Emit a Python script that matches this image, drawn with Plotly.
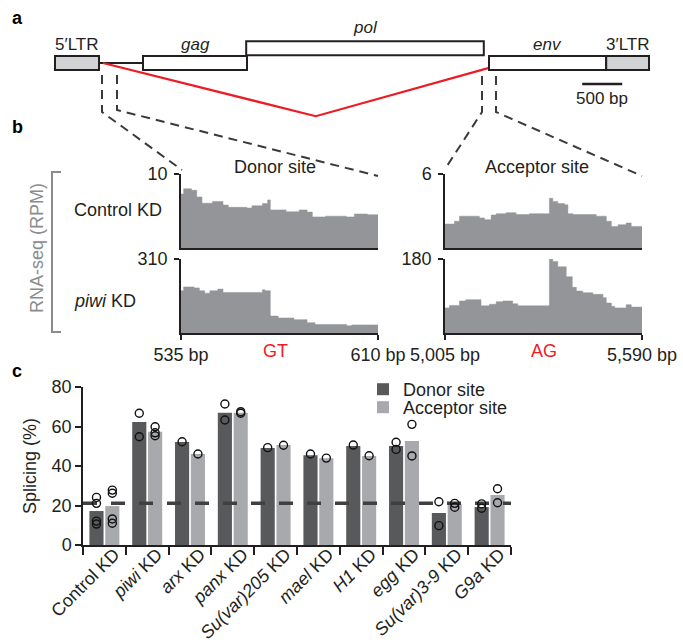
import plotly.graph_objects as go

W, H = 683, 643
FONT = "Liberation Sans, Arial, Helvetica, sans-serif"

# ---------------- panel a: element map (bp) ----------------
feat_names = ["5′LTR", "<i>gag</i>", "<i>pol</i>", "<i>env</i>", "3′LTR"]
feat_start = [0, 1100, 2390, 5425, 6890]
feat_end = [550, 2400, 5360, 6890, 7425]
feat_row = [0, 0, 1, 0, 0]          # 0 = main row, 1 = shifted reading frame
feat_is_ltr = [True, False, False, False, True]
leader_span = [550, 1100]           # thin line between 5'LTR and gag
intron_bp = [600, 3260, 5425]       # donor, apex, acceptor of spliced intron
scale_start, scale_len = 6590, 500

# ---------------- panel b: RNA-seq coverage (RPM) ----------------
donor_range = [535, 610]
donor_ctrl_pos = [535, 536, 539, 541, 543, 547, 551, 553, 560, 562, 566, 568, 569,
                  575, 580, 583, 585, 590, 598, 601, 606]
donor_ctrl_val = [7.3, 8.0, 7.8, 6.9, 6.05, 6.3, 5.8, 5.5, 5.4, 5.7, 6.0, 6.5, 5.15,
                  4.9, 5.15, 4.85, 4.2, 4.3, 4.2, 4.6, 4.5]
donor_piwi_pos = [535, 536, 540, 542, 544, 546, 549, 551, 566, 567, 569, 572, 578,
                  583, 586, 598, 600]
donor_piwi_val = [177, 193, 189, 177, 167, 177, 184, 170, 181, 177, 71, 63, 56,
                  43, 36, 30, 34]
acc_range = [5005, 5590]
acc_ctrl_pos = [5005, 5033, 5048, 5107, 5122, 5142, 5157, 5186, 5216, 5256, 5315,
                5325, 5340, 5360, 5370, 5385, 5454, 5484, 5499, 5519, 5543, 5558]
acc_ctrl_val = [1.94, 2.17, 2.58, 2.44, 2.3, 2.67, 2.78, 2.86, 2.72, 2.78, 4.03,
                3.78, 3.6, 3.5, 2.78, 2.72, 2.58, 2.17, 1.75, 1.89, 2.03, 1.75]
acc_piwi_pos = [5005, 5018, 5048, 5067, 5112, 5137, 5157, 5177, 5206, 5221, 5315,
                5325, 5340, 5365, 5383, 5395, 5414, 5444, 5474, 5484, 5499, 5509,
                5543, 5558]
acc_piwi_val = [61, 67, 78, 81, 66, 70, 76, 78, 71, 66, 180, 174, 161, 137, 111,
                102, 98, 94, 86, 73, 65, 61, 69, 63]
ctrl_max = [10, 6]
piwi_max = [310, 180]
gt_bp, ag_bp = 571, 5300

# ---------------- panel c: splicing ----------------
categories = ["Control KD", "<i>piwi</i> KD", "<i>arx</i> KD", "<i>panx</i> KD",
              "<i>Su(var)205</i> KD", "<i>mael</i> KD", "<i>H1</i> KD",
              "<i>egg</i> KD", "<i>Su(var)3-9</i> KD", "<i>G9a</i> KD"]
donor_vals = [17.2, 62.3, 52.2, 67.0, 49.1, 45.4, 50.1, 50.1, 16.2, 19.2]
acceptor_vals = [19.7, 57.4, 46.1, 67.0, 50.6, 43.9, 45.1, 52.7, 20.6, 25.3]
donor_pts = [[24.1, 21.1, 12.1, 10.6], [66.7, 54.8], [52.3], [71.4, 63.3], [49.3],
             [46.1], [50.6], [52.0, 48.4], [21.9, 9.8], [20.8, 18.6]]
acceptor_pts = [[27.8, 26.2, 13.2, 11.0], [59.9, 56.8, 55.3], [46.1], [67.5, 66.7],
                [50.5], [44.0], [45.2], [61.1, 45.1], [21.1, 19.1], [28.5, 21.4]]
control_level = 21.1
y_ticks = [0, 20, 40, 60, 80]

C_DONOR = "#58595b"
C_ACC = "#a7a9ac"
C_COV = "#939598"
C_RED = "#ed1c24"
C_LTR = "#d1d3d4"
C_DASH = "#3a3a3a"


def px(x):
    return x / W


def py(y):
    return 1 - y / H


fig = go.Figure()
shapes = []
annotations = []


def note(text, x, y, xref="paper", yref="paper", size=18, color="#231f20",
         xanchor="center", angle=0):
    return dict(xref=xref, yref=yref, x=x, y=y, text=text, showarrow=False,
                font=dict(size=size, color=color), xanchor=xanchor,
                yanchor="middle", textangle=angle)


# ---- panel a ----
for name, s, e, r, ltr in zip(feat_names, feat_start, feat_end, feat_row, feat_is_ltr):
    y0 = 0 if r == 0 else 1.05
    shapes.append(dict(type="rect", xref="x", yref="y", x0=s, x1=e, y0=y0, y1=y0 + 1,
                       fillcolor=C_LTR if ltr else "white",
                       line=dict(color="#231f20", width=2), layer="above"))
    annotations.append(note(name, (s + e) / 2, 1.8 if r == 0 else 3.07,
                            xref="x", yref="y", size=17))
fig.add_trace(go.Scatter(x=leader_span, y=[0.5, 0.5], mode="lines",
                         line=dict(color="#231f20", width=2), xaxis="x", yaxis="y",
                         showlegend=False, hoverinfo="skip"))
fig.add_trace(go.Scatter(x=intron_bp, y=[0.5, -3.3, 0.15], mode="lines",
                         line=dict(color=C_RED, width=2.2), xaxis="x", yaxis="y",
                         showlegend=False, hoverinfo="skip"))
fig.add_trace(go.Scatter(x=[scale_start, scale_start + scale_len], y=[-1, -1],
                         mode="lines", line=dict(color="#231f20", width=2.5),
                         xaxis="x", yaxis="y", showlegend=False, hoverinfo="skip"))
annotations.append(note("500 bp", scale_start + scale_len / 2, -2.05,
                        xref="x", yref="y", size=17))

# ---- panel b ----
tracks = [
    (donor_ctrl_pos, donor_ctrl_val, donor_range, "x2", "y2"),
    (donor_piwi_pos, donor_piwi_val, donor_range, "x3", "y3"),
    (acc_ctrl_pos, acc_ctrl_val, acc_range, "x4", "y4"),
    (acc_piwi_pos, acc_piwi_val, acc_range, "x5", "y5"),
]
for pos, val, rng, xa, ya in tracks:
    fig.add_trace(go.Scatter(x=pos + [rng[1]], y=val + [val[-1]], mode="lines",
                             line=dict(shape="hv", width=0.5, color=C_COV),
                             fill="tozeroy", fillcolor=C_COV, xaxis=xa, yaxis=ya,
                             showlegend=False, hoverinfo="skip"))

# ---- panel c ----
xs = list(range(len(categories)))
fig.add_trace(go.Bar(x=xs, y=donor_vals, width=0.33, offset=-0.35,
                     marker=dict(color=C_DONOR, line=dict(width=0)),
                     name="Donor site", xaxis="x6", yaxis="y6", legend="legend"))
fig.add_trace(go.Bar(x=xs, y=acceptor_vals, width=0.33, offset=0.02,
                     marker=dict(color=C_ACC, line=dict(width=0)),
                     name="Acceptor site", xaxis="x6", yaxis="y6", legend="legend2"))
fig.add_trace(go.Scatter(x=[-0.5, len(categories) - 0.5], y=[control_level] * 2,
                         mode="lines", line=dict(color="#404040", width=3.5,
                                                 dash="14px,14px"),
                         xaxis="x6", yaxis="y6", showlegend=False, hoverinfo="skip"))
pt_x, pt_y = [], []
for i, (dp, ap) in enumerate(zip(donor_pts, acceptor_pts)):
    pt_x += [i - 0.185] * len(dp) + [i + 0.185] * len(ap)
    pt_y += dp + ap
fig.add_trace(go.Scatter(x=pt_x, y=pt_y, mode="markers",
                         marker=dict(symbol="circle-open", size=8, color="#111111",
                                     line=dict(width=1.4)),
                         cliponaxis=False, xaxis="x6", yaxis="y6",
                         showlegend=False, hoverinfo="skip"))

# ---- decorations (paper coords) ----
def path(points):
    return "M " + " L ".join(f"{px(a)},{py(b)}" for a, b in points)


for pts in ([(102, 75), (102, 112), (182, 170)],
            [(117, 75), (117, 110), (378, 176)],
            [(482, 76), (482, 112), (447, 166)],
            [(496, 76), (496, 112), (642, 176)]):
    shapes.append(dict(type="path", xref="paper", yref="paper", path=path(pts),
                       line=dict(color=C_DASH, width=2, dash="9px,6px")))
shapes.append(dict(type="path", xref="paper", yref="paper",
                   path=path([(61, 172), (52, 172), (52, 332), (61, 332)]),
                   line=dict(color="#8c8c8c", width=2)))

for txt, x, y in (("a", 17, 18), ("b", 17, 127), ("c", 17, 371)):
    annotations.append(note(f"<b>{txt}</b>", px(x), py(y), color="black"))
annotations += [
    note("RNA-seq (RPM)", px(37), py(248), color="#8c8c8c", angle=-90),
    note("Control KD", px(72), py(210), xanchor="left"),
    note("<i>piwi</i> KD", px(72), py(301), xanchor="left"),
    note("Donor site", px(275), py(167)),
    note("Acceptor site", px(537), py(167)),
    note("GT", gt_bp, py(351), xref="x3", color=C_RED),
    note("AG", ag_bp, py(351), xref="x5", color=C_RED),
    note("Splicing (%)", px(30), py(466), angle=-90),
]

axis_line = dict(showline=True, linecolor="#231f20", linewidth=1.5, showgrid=False,
                 zeroline=False, automargin=False)


def cov_x(dom, rng, anchor, bottom):
    d = dict(domain=dom, range=rng, anchor=anchor, **axis_line)
    if bottom:
        d.update(tickmode="array", tickvals=rng,
                 ticktext=[f"{rng[0]:,} bp", f"{rng[1]:,} bp"], ticks="outside",
                 ticklen=5, tickwidth=1.5, tickcolor="#231f20",
                 tickfont=dict(size=18))
    else:
        d.update(showticklabels=False, ticks="")
    return d


def cov_y(dom, top, anchor):
    return dict(domain=dom, range=[0, top], anchor=anchor, tickmode="array",
                tickvals=[top], ticktext=[str(top)], ticks="outside", ticklen=5,
                tickwidth=1.5, tickcolor="#231f20", tickfont=dict(size=18),
                ticklabelstandoff=3, **axis_line)


dx_d = [px(181), px(378)]
dx_a = [px(445), px(642)]
dy_c = [py(248), py(174)]
dy_p = [py(333), py(259)]

fig.update_layout(
    template="none",
    width=W, height=H, margin=dict(l=0, r=0, t=0, b=0, autoexpand=False),
    paper_bgcolor="white", plot_bgcolor="rgba(0,0,0,0)",
    font=dict(family=FONT, size=18, color="#231f20"),
    barmode="overlay",
    xaxis=dict(domain=[0, 1], range=[-687.5, 7850], visible=False, automargin=False),
    yaxis=dict(domain=[py(126), py(14)], range=[-4, 4], visible=False,
               automargin=False),
    xaxis2=cov_x(dx_d, donor_range, "y2", False),
    yaxis2=cov_y(dy_c, ctrl_max[0], "x2"),
    xaxis3=cov_x(dx_d, donor_range, "y3", True),
    yaxis3=cov_y(dy_p, piwi_max[0], "x3"),
    xaxis4=cov_x(dx_a, acc_range, "y4", False),
    yaxis4=cov_y(dy_c, ctrl_max[1], "x4"),
    xaxis5=cov_x(dx_a, acc_range, "y5", True),
    yaxis5=cov_y(dy_p, piwi_max[1], "x5"),
    xaxis6=dict(domain=[px(83), px(511)], range=[-0.5, len(categories) - 0.5],
                anchor="y6", tickmode="array", tickvals=xs, ticktext=categories,
                ticks="", tickangle=-45, tickfont=dict(size=18),
                ticklabelshift=10, ticklabelstandoff=-10,
                minor=dict(tickmode="array",
                           tickvals=[i - 0.5 for i in range(len(categories) + 1)],
                           ticks="outside", ticklen=8, tickwidth=1.5,
                           tickcolor="#231f20", showgrid=False),
                **axis_line),
    yaxis6=dict(domain=[py(545), py(387)], range=[0, 80], anchor="x6",
                tickmode="array", tickvals=y_ticks, ticks="outside", ticklen=6,
                tickwidth=1.5, tickcolor="#231f20", tickfont=dict(size=18),
                **axis_line),
    legend=dict(x=px(363), y=py(371), xanchor="left", yanchor="top",
                bgcolor="rgba(0,0,0,0)", font=dict(size=18), borderwidth=0),
    legend2=dict(x=px(363), y=py(389), xanchor="left", yanchor="top",
                 bgcolor="rgba(0,0,0,0)", font=dict(size=18), borderwidth=0),
    shapes=shapes,
    annotations=annotations,
)

fig.write_html("out.html")
